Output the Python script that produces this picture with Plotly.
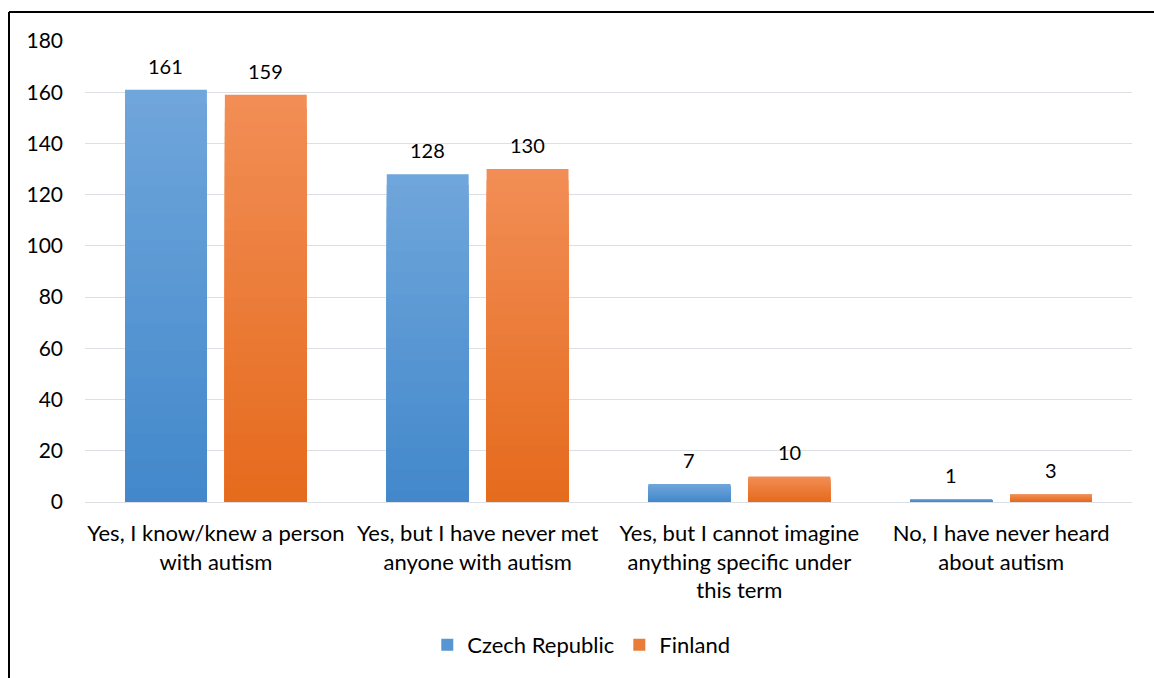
import plotly.graph_objects as go

categories = [
    "Yes, I know/knew a person<br>with autism",
    "Yes, but I have never met<br>anyone with autism",
    "Yes, but I cannot imagine<br>anything specific under<br>this term",
    "No, I have never heard<br>about autism",
]
czech = [161, 128, 7, 1]
finland = [159, 130, 10, 3]
series_names = ["Czech Republic", "Finland"]
y_ticks = [0, 20, 40, 60, 80, 100, 120, 140, 160, 180]

# gradient colours (top -> bottom)
grad = {
    "Czech Republic": ((112, 166, 219), (66, 136, 203)),
    "Finland": ((242, 142, 86), (229, 106, 28)),
}
N_STEPS = 30
FONT = "Lato"


def lerp(c1, c2, t):
    return "rgb(%d,%d,%d)" % tuple(round(a + (b - a) * t) for a, b in zip(c1, c2))


fig = go.Figure()
annotations = []
for si, (name, vals, grp) in enumerate([("Czech Republic", czech, "cz"), ("Finland", finland, "fi")]):
    top, bot = grad[name]
    for k in range(N_STEPS):
        frac = 1 - k / N_STEPS
        col = lerp(top, bot, (k + 0.5) / N_STEPS)
        fig.add_trace(go.Bar(
            x=categories,
            y=[v * frac for v in vals],
            name=name,
            offsetgroup=grp,
            legendgroup=grp,
            showlegend=(k == N_STEPS // 2),
            marker=dict(color=col, line=dict(width=0)),
            hoverinfo="skip" if k else "x+y+name",
        ))
    for c, v in zip(categories, vals):
        annotations.append(dict(
            x=c, y=v, xref="x", yref="y",
            text=str(v), showarrow=False,
            xshift=-50 if si == 0 else 50,
            yanchor="bottom", yshift=10,
            font=dict(family=FONT, size=20, color="#000000"),
        ))

# frame (left and top edges visible; others run off the page)
fx0 = (9 - 85) / 1047
fx1 = (1200 - 85) / 1047
fy_top = (502 - 12) / 461
fy_bot = (502 - 720) / 461

fig.update_layout(
    width=1154,
    height=678,
    barmode="group",
    bargap=0.237,
    bargroupgap=0.18,
    plot_bgcolor="white",
    paper_bgcolor="white",
    font=dict(family=FONT, size=20, color="#000000"),
    margin=dict(l=85, r=22, t=41, b=176),
    showlegend=True,
    legend=dict(
        orientation="h",
        x=0.474, xanchor="center",
        y=-0.31, yanchor="middle",
        font=dict(family=FONT, size=22, color="#000000"),
        itemwidth=30,
        traceorder="normal",
    ),
    xaxis=dict(
        showline=False,
        ticks="",
        ticklabelstandoff=16,
        tickfont=dict(family=FONT, size=22, color="#000000"),
    ),
    yaxis=dict(
        range=[0, 180],
        tickvals=y_ticks,
        showgrid=True,
        gridcolor="#DCDFE4",
        gridwidth=1.2,
        zeroline=True,
        zerolinecolor="#DCDFE4",
        zerolinewidth=1.2,
        showline=False,
        ticks="",
        ticklabelstandoff=21,
        tickfont=dict(family=FONT, size=21, color="#000000"),
    ),
    annotations=annotations,
    shapes=[
        dict(type="line", xref="paper", yref="paper",
             x0=fx0, x1=fx0, y0=fy_bot, y1=fy_top,
             line=dict(color="black", width=2), layer="above"),
        dict(type="line", xref="paper", yref="paper",
             x0=fx0, x1=fx1, y0=fy_top, y1=fy_top,
             line=dict(color="black", width=2), layer="above"),
    ],
)

fig.write_html(
    "out.html",
    config={"displayModeBar": False},
    post_script="document.body.style.margin='0';"
                "document.documentElement.style.overflow='hidden';"
                "document.body.style.overflow='hidden';",
)
